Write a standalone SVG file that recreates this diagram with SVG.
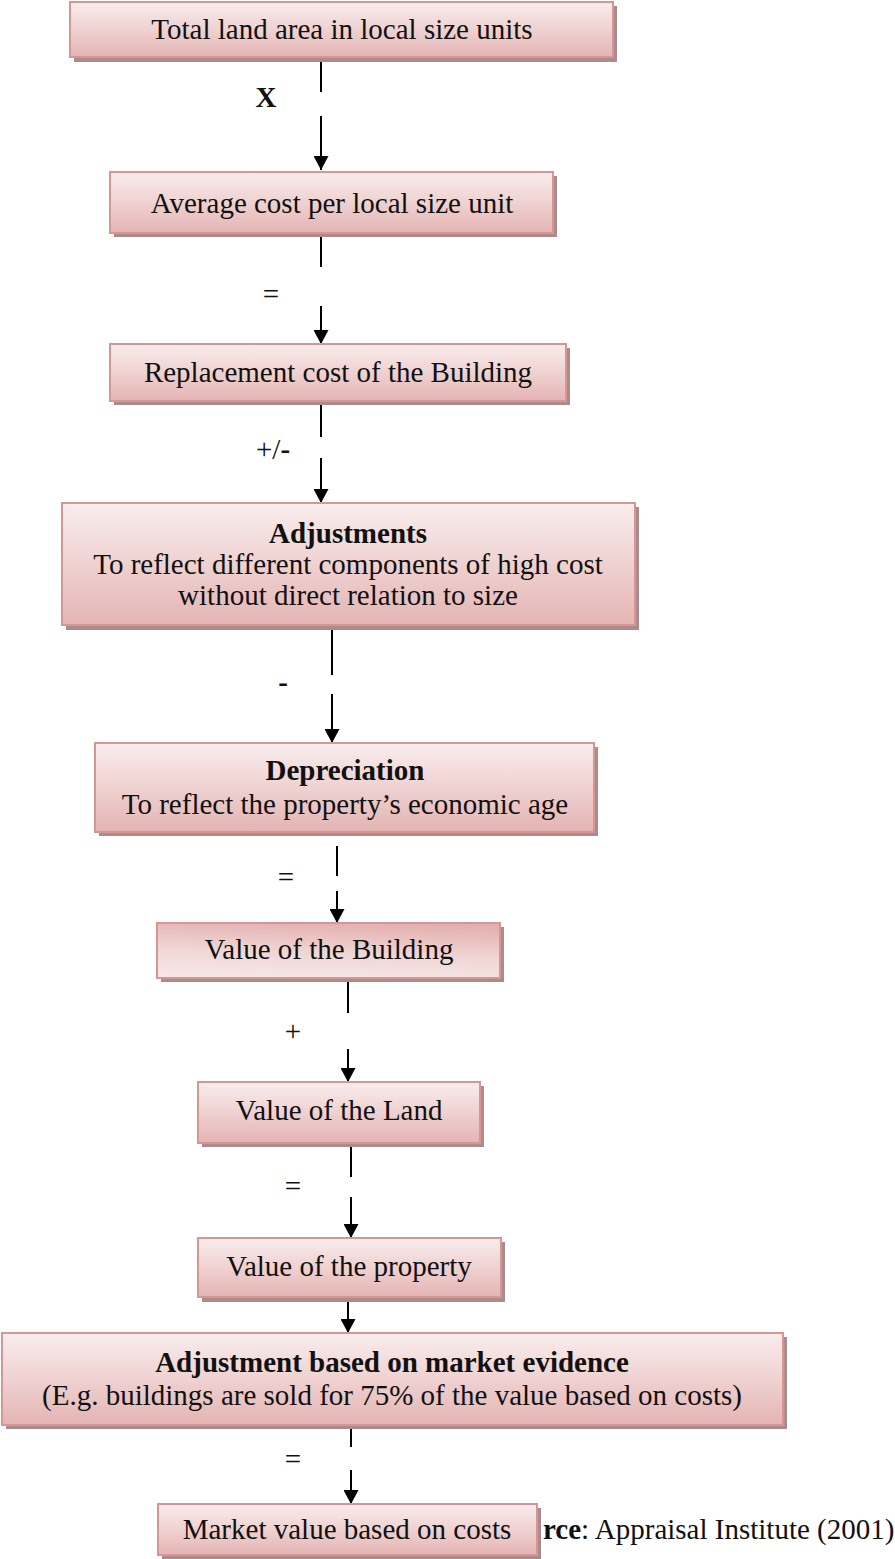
<svg xmlns="http://www.w3.org/2000/svg" width="895" height="1559" viewBox="0 0 895 1559">
  <defs>
    <linearGradient id="boxFill" x1="0" y1="0" x2="0" y2="1">
      <stop offset="0" stop-color="#f9eded"/>
      <stop offset="0.5" stop-color="#efd2d1"/>
      <stop offset="1" stop-color="#e4b4b3"/>
    </linearGradient>
    <linearGradient id="boxFillRev" x1="0.6" y1="0" x2="0.4" y2="1">
      <stop offset="0" stop-color="#e3b0af"/>
      <stop offset="0.55" stop-color="#f0d6d5"/>
      <stop offset="1" stop-color="#f6e6e6"/>
    </linearGradient>
    <!-- filled triangular head, tip at the end of the line -->
    <marker id="arrow" viewBox="0 0 14 15" refX="14" refY="7.5" markerWidth="14" markerHeight="15" markerUnits="userSpaceOnUse" orient="auto">
      <path d="M0,0 L14,7.5 L0,15 Z" fill="#000"/>
    </marker>
  </defs>
  <style>
    .shadow { fill: #ab8b8b; }
    .box { fill: url(#boxFill); stroke: #d99594; stroke-width: 2; }
    .box-rev { fill: url(#boxFillRev); stroke: #d99594; stroke-width: 2; }
    text { font-family: "Liberation Serif", "Times New Roman", serif; font-size: 29px; fill: #111; }
    .c { text-anchor: middle; }
    .b { font-weight: bold; }
    .line { stroke: #000; stroke-width: 2; fill: none; }
    .head { stroke: #000; stroke-width: 2; fill: none; marker-end: url(#arrow); }
  </style>

  <rect width="895" height="1559" fill="#fff"/>

  <!-- source note, partly covered by the last box -->
  <text id="source" x="543" y="1539"><tspan class="b">rce</tspan>: Appraisal Institute (2001)</text>

  <g id="connectors">
    <!-- area x cost -->
    <line class="line" x1="321" y1="58" x2="321" y2="92"/>
    <line class="head" x1="321" y1="116" x2="321" y2="170"/>
    <text class="c b" x="266" y="107">X</text>
    <!-- = replacement cost -->
    <line class="line" x1="321" y1="234" x2="321" y2="267"/>
    <line class="head" x1="321" y1="306" x2="321" y2="344"/>
    <text class="c" x="271" y="304">=</text>
    <!-- +/- adjustments -->
    <line class="line" x1="321" y1="402" x2="321" y2="437"/>
    <line class="head" x1="321" y1="458" x2="321" y2="503"/>
    <text x="256" y="459">+/<tspan class="b">-</tspan></text>
    <!-- - depreciation -->
    <polyline class="line" points="338,625 332,625 332,675"/>
    <line class="head" x1="332" y1="694" x2="332" y2="743"/>
    <text class="c b" x="283" y="692">-</text>
    <!-- = value of the building -->
    <line class="line" x1="337" y1="846" x2="337" y2="876"/>
    <line class="head" x1="337" y1="891" x2="337" y2="923"/>
    <text class="c" x="286" y="887">=</text>
    <!-- + value of the land -->
    <line class="line" x1="348" y1="978" x2="348" y2="1013"/>
    <line class="head" x1="348" y1="1049" x2="348" y2="1082"/>
    <text class="c" x="293" y="1041">+</text>
    <!-- = value of the property -->
    <line class="line" x1="351" y1="1144" x2="351" y2="1177"/>
    <line class="head" x1="351" y1="1197" x2="351" y2="1238"/>
    <text class="c" x="293" y="1196">=</text>
    <!-- property to market adjustment -->
    <line class="head" x1="348" y1="1298" x2="348" y2="1333"/>
    <!-- = market value -->
    <line class="line" x1="351" y1="1427" x2="351" y2="1447"/>
    <line class="head" x1="351" y1="1470" x2="351" y2="1504"/>
    <text class="c" x="293" y="1469">=</text>
  </g>

  <g id="total-land-area">
    <rect class="shadow" x="74" y="6" width="543" height="56"/>
    <rect class="box" x="70" y="2" width="543" height="55"/>
    <text class="c" x="342" y="39">Total land area in local size units</text>
  </g>

  <g id="average-cost">
    <rect class="shadow" x="114" y="176" width="443" height="61"/>
    <rect class="box" x="110" y="172" width="443" height="61"/>
    <text class="c" x="332" y="213">Average cost per local size unit</text>
  </g>

  <g id="replacement-cost">
    <rect class="shadow" x="114" y="348" width="456" height="57"/>
    <rect class="box" x="110" y="344" width="456" height="57"/>
    <text class="c" x="338" y="382">Replacement cost of the Building</text>
  </g>

  <g id="adjustments">
    <rect class="shadow" x="66" y="507" width="573" height="123"/>
    <rect class="box" x="62" y="503" width="573" height="122"/>
    <text class="c b" x="348" y="543">Adjustments</text>
    <text class="c" x="348" y="574">To reflect different components of high cost</text>
    <text class="c" x="348" y="605">without direct relation to size</text>
  </g>

  <g id="depreciation">
    <rect class="shadow" x="99" y="747" width="499" height="89"/>
    <rect class="box" x="95" y="743" width="499" height="89"/>
    <text class="c b" x="345" y="780">Depreciation</text>
    <text class="c" x="345" y="814">To reflect the property’s economic age</text>
  </g>

  <g id="value-building">
    <rect class="shadow" x="161" y="927" width="343" height="55"/>
    <rect class="box-rev" x="157" y="923" width="343" height="55"/>
    <text class="c" x="329" y="959">Value of the Building</text>
  </g>

  <g id="value-land">
    <rect class="shadow" x="202" y="1086" width="282" height="61"/>
    <rect class="box" x="198" y="1082" width="282" height="61"/>
    <text class="c" x="339" y="1120">Value of the Land</text>
  </g>

  <g id="value-property">
    <rect class="shadow" x="202" y="1242" width="303" height="60"/>
    <rect class="box" x="198" y="1238" width="303" height="59"/>
    <text class="c" x="349" y="1276">Value of the property</text>
  </g>

  <g id="market-adjustment">
    <rect class="shadow" x="6" y="1337" width="781" height="92"/>
    <rect class="box" x="2" y="1333" width="781" height="92"/>
    <text class="c b" x="392" y="1372">Adjustment based on market evidence</text>
    <text class="c" x="392" y="1405">(E.g. buildings are sold for 75% of the value based on costs)</text>
  </g>

  <g id="market-value">
    <rect class="shadow" x="162" y="1508" width="379" height="51"/>
    <rect class="box" x="158" y="1504" width="379" height="51"/>
    <text class="c" x="347" y="1539">Market value based on costs</text>
  </g>
</svg>
